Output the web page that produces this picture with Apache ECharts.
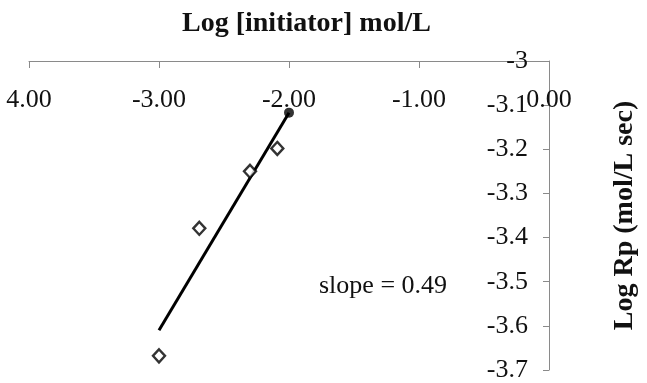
<!DOCTYPE html>
<html>
<head>
<meta charset="utf-8">
<script src="https://cdn.jsdelivr.net/npm/echarts@6/dist/echarts.min.js"></script>
<style>html,body{margin:0;padding:0;background:#fff}#c{width:647px;height:383px}</style>
</head>
<body>
<div id="c"></div>
<script>
// Data
var xTickLabels = ["4.00", "-3.00", "-2.00", "-1.00", "0.00"];
var yTickLabels = ["-3", "-3.1", "-3.2", "-3.3", "-3.4", "-3.5", "-3.6", "-3.7"];
var openX = [-3.00, -2.69, -2.30, -2.09];
var openY = [-3.668, -3.379, -3.250, -3.198];
var filledX = [-2.00];
var filledY = [-3.117];
var fitX = [-3.00, -2.00];
var fitY = [-3.610, -3.117];
var slopeText = "slope = 0.49";

function zip(a, b) { return a.map(function (v, i) { return [v, b[i]]; }); }
var FONT = "Liberation Serif";

var chart = echarts.init(document.getElementById('c'));
chart.setOption({
  animation: false,
  backgroundColor: '#fff',
  title: {
    text: 'Log [initiator] mol/L',
    left: 182, top: 10, padding: 0,
    textStyle: { fontFamily: FONT, fontWeight: 'bold', fontSize: 28, color: '#111' }
  },
  grid: { left: 29, right: 82, top: 61, bottom: 10 },
  xAxis: {
    type: 'value', position: 'top', min: -4, max: 0, interval: 1,
    splitLine: { show: false },
    axisLine: { show: true, onZero: false, lineStyle: { color: '#8a8a8a', width: 1 } },
    axisTick: { show: true, inside: true, length: 7, lineStyle: { color: '#8a8a8a' } },
    axisLabel: {
      inside: true, margin: 26,
      fontFamily: FONT, fontSize: 26, color: '#111',
      formatter: function (v) { return xTickLabels[Math.round(v + 4)]; }
    }
  },
  yAxis: {
    type: 'value', position: 'right', min: -3.7, max: -3, interval: 0.1,
    splitLine: { show: false },
    axisLine: { show: true, onZero: false, lineStyle: { color: '#8a8a8a', width: 1 } },
    axisTick: { show: true, inside: true, length: 6, lineStyle: { color: '#8a8a8a' } },
    axisLabel: {
      inside: true, margin: 21,
      fontFamily: FONT, fontSize: 26, color: '#111',
      formatter: function (v) { return yTickLabels[Math.round((-3 - v) * 10)]; }
    },
    name: 'Log Rp (mol/L sec)',
    nameLocation: 'middle', nameRotate: 90, nameGap: 62,
    nameTextStyle: { fontFamily: FONT, fontWeight: 'bold', fontSize: 28, color: '#111' }
  },
  graphic: [{
    type: 'text', left: 319, top: 273,
    style: { text: slopeText, fontFamily: FONT, fontSize: 26, fill: '#111' }
  }],
  series: [
    {
      type: 'line', data: zip(fitX, fitY), symbol: 'none',
      lineStyle: { color: '#000', width: 3 }, z: 2
    },
    {
      type: 'scatter', data: zip(openX, openY), symbol: 'diamond', symbolSize: [12, 13],
      itemStyle: { color: '#fff', borderColor: '#000', borderWidth: 2.4 }, z: 3
    },
    {
      type: 'scatter', data: zip(filledX, filledY), symbol: 'circle', symbolSize: 10,
      itemStyle: { color: '#000' }, z: 4
    }
  ]
});
</script>
</body>
</html>
